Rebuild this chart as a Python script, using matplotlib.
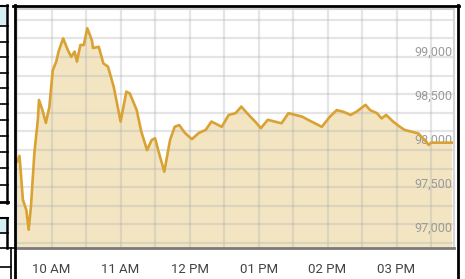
import matplotlib
matplotlib.use('Agg')
import matplotlib.pyplot as plt
import numpy as np
from matplotlib.lines import Line2D
from matplotlib.patches import Rectangle
import matplotlib.transforms as mtransforms

# minutes since midnight
times = [570, 572, 573, 575, 578, 580, 582, 585, 588, 589, 592, 595, 598, 601, 604,
         606, 610, 614, 617, 620, 622, 625, 628, 631, 635, 636, 641, 645, 649, 654,
         660, 665, 668, 674, 678, 683, 687, 690, 693, 698, 703, 707, 711, 716, 722,
         728, 734, 739, 745, 748, 754, 760, 765, 770, 777, 782, 788, 794, 800, 806,
         812, 818, 823, 829, 835, 842, 848, 854, 860, 865, 873, 877, 883, 887, 891,
         897, 903, 907, 913, 919, 923, 928, 930, 948]
prices = [97800, 97865, 97705, 97365, 97250, 97025, 97290, 97900, 98275, 98500,
          98385, 98240, 98420, 98840, 98935, 99050, 99200, 99070, 98990, 99050,
          98935, 99125, 99125, 99315, 99180, 99090, 99105, 98915, 98880, 98650,
          98255, 98595, 98575, 98385, 98140, 97930, 98045, 98065, 97915, 97685,
          98045, 98195, 98215, 98125, 98055, 98125, 98160, 98255, 98215, 98195,
          98330, 98350, 98425, 98350, 98255, 98180, 98275, 98255, 98235, 98350,
          98330, 98310, 98275, 98235, 98195, 98310, 98385, 98365, 98330, 98365,
          98445, 98385, 98350, 98290, 98330, 98255, 98195, 98160, 98140, 98120,
          98065, 97990, 98015, 98015]
hour_ticks = [600, 660, 720, 780, 840, 900]
hour_labels = ['10 AM', '11 AM', '12 PM', '01 PM', '02 PM', '03 PM']
price_labels = [97000, 97500, 98000, 98500, 99000]

W, H = 465, 279
fig = plt.figure(figsize=(W / 100, H / 100), dpi=100)

def fx(x):
    return x / W

def fy(y):
    return 1 - y / H

ax = fig.add_axes([fx(16), fy(248), (454 - 16) / W, (248 - 9) / H])
ymin, ymax = 96818, 99534
ax.set_xlim(569, 950)
ax.set_ylim(ymin, ymax)

ax.fill_between(times, prices, ymin, color='#f3e5c2', lw=0, zorder=1)
ax.plot(times, prices, color='#d9a233', lw=1.9, zorder=4, solid_joinstyle='round')

# grid
for gx in np.arange(570, 951, 30):
    ax.axvline(gx, color='#b0b0b0', alpha=0.33, lw=1.6, zorder=2)
for gy in np.arange(96875, ymax, 211.4):
    ax.axhline(gy, color='#b0b0b0', alpha=0.33, lw=1.6, zorder=2)

ax.set_xticks(hour_ticks)
ax.set_xticklabels(hour_labels, fontsize=9.5, color='#444444',
                   family=['Roboto', 'DejaVu Sans'])
ax.tick_params(axis='x', length=0, pad=11)
ax.set_yticks([])

trans = mtransforms.blended_transform_factory(ax.transAxes, ax.transData)
for v in price_labels:
    ax.text(0.996, v, f'{v:,}', transform=trans, ha='right', va='baseline',
            fontsize=9, color='#9a9a9a', zorder=3,
            family=['Roboto', 'DejaVu Sans'])

ax.spines['left'].set_visible(False)
ax.spines['bottom'].set_color('#7a7a7a')
ax.spines['bottom'].set_linewidth(2)
ax.spines['top'].set_color('#cfcfcf')
ax.spines['top'].set_linewidth(1.5)
ax.spines['right'].set_color('#d6d6d6')
ax.spines['right'].set_linewidth(1.5)

# outer black frame
def fline(x0, y0, x1, y1, lw=2, color='black'):
    fig.add_artist(Line2D([fx(x0), fx(x1)], [fy(y0), fy(y1)], color=color, lw=lw,
                          transform=fig.transFigure))

fline(13, 5.5, 459, 5.5, lw=2)
fline(14.5, 5, 14.5, 279, lw=2)
fline(457.5, 5, 457.5, 279, lw=2)

# left-side table fragment
fig.add_artist(Rectangle((fx(0), fy(26)), fx(7), (26 - 5) / H, facecolor='#d6edf5',
                         edgecolor='none', transform=fig.transFigure))
fig.add_artist(Rectangle((fx(0), fy(233)), fx(7), (233 - 218) / H, facecolor='#d6edf5',
                         edgecolor='none', transform=fig.transFigure))
fline(0, 5.5, 8, 5.5, lw=1.5)
fline(7.2, 5, 7.2, 203, lw=1.8)
for yy in [26, 42, 57, 73, 88, 104, 120, 136, 152, 168, 185]:
    fline(0, yy, 7.5, yy, lw=1.2)
fline(0, 202, 8, 202, lw=2)
fline(0, 218, 8, 218, lw=1.5)
fline(7.2, 218, 7.2, 248, lw=1.8)
fline(0, 233, 7.5, 233, lw=1.2)
fline(0, 248, 15, 248, lw=1.2)
fline(11, 248, 11, 279, lw=1.2)
fline(0, 267, 11, 267, lw=1.2)

fig.savefig('out.png', dpi=100)
